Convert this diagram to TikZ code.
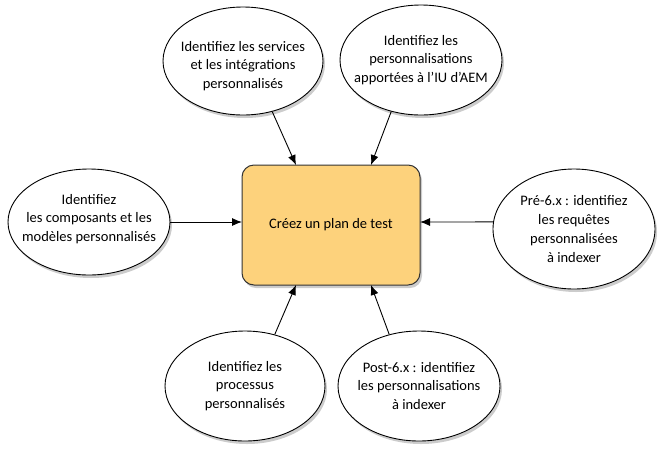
\documentclass[tikz,border=0pt]{standalone}
\usepackage{fontspec}
\setmainfont{Carlito}
\usetikzlibrary{shapes.geometric,shadows,arrows.meta}
\definecolor{boxfill}{HTML}{FDD27C}
\begin{document}
\begin{tikzpicture}[x=1pt,y=-1pt,
  bubble/.style={ellipse,draw=black,line width=0.9pt,fill=white,inner sep=0pt,
    drop shadow={shadow xshift=2pt,shadow yshift=-3pt,opacity=0.4}},
  txt/.style={align=center,inner sep=0pt,font=\fontsize{14.5}{18.8}\selectfont},
  plan/.style={rounded corners=12pt,draw=black!80,line width=1pt,fill=boxfill,
    minimum width=178pt,minimum height=120pt,font=\fontsize{14.5}{18.8}\selectfont,
    drop shadow={shadow xshift=2pt,shadow yshift=-3pt,opacity=0.4}},
  link/.style={-{Latex[length=10pt,width=8pt]},line width=0.9pt}]
\useasboundingbox (0,0) rectangle (661,448);
\node[plan] (c) at (331,225) {Créez un plan de test};
\node[bubble,minimum width=160pt,minimum height=108pt] (tl) at (243,61) {};
\node[txt] (tlt) at (243,66) {Identifiez les services\\et les intégrations\\personnalisés};
\node[bubble,minimum width=162pt,minimum height=110pt] (tr) at (421,60) {};
\node[txt] (trt) at (tr) {Identifiez les\\personnalisations\\apportées à l’IU d’AEM};
\node[bubble,minimum width=162pt,minimum height=106pt] (l) at (89,222) {};
\node[txt] (lt) at (89,219) {Identifiez\\les composants et les\\modèles personnalisés};
\node[bubble,minimum width=162pt,minimum height=120pt] (r) at (574,229) {};
\node[txt] (rt) at (r) {Pré-6.x : identifiez\\les requêtes\\personnalisées\\à indexer};
\node[bubble,minimum width=160pt,minimum height=110pt] (bl) at (245,386) {};
\node[txt] (blt) at (bl) {Identifiez les\\processus\\personnalisés};
\node[bubble,minimum width=162pt,minimum height=110pt] (br) at (419,386) {};
\node[txt] (brt) at (br) {Post-6.x : identifiez\\les personnalisations\\à indexer};
\coordinate (ctl) at (296,165);
\coordinate (ctr) at (371,165);
\coordinate (cbl) at (296,285);
\coordinate (cbr) at (371,285);
\coordinate (cl) at (242,222);
\coordinate (cr) at (420,222);
\draw[link] (tl.300) -- (ctl);
\draw[link] (tr.240) -- (ctr);
\draw[link] (l.east) -- (cl);
\draw[link] (r.175) -- (cr);
\draw[link] (bl.60) -- (cbl);
\draw[link] (br.120) -- (cbr);
\end{tikzpicture}
\end{document}
